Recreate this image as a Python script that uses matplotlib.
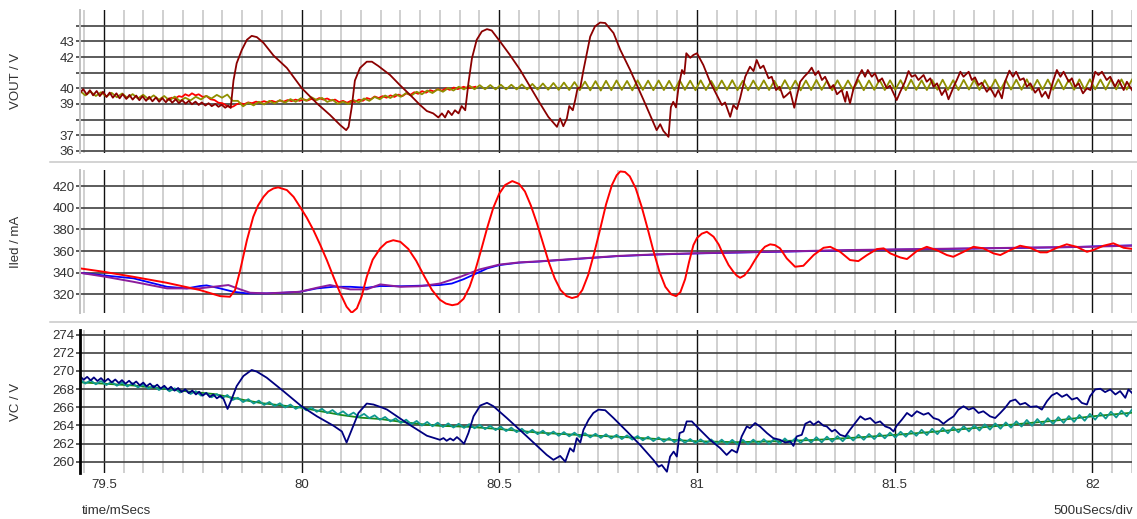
import numpy as np
import matplotlib
matplotlib.use('Agg')
import matplotlib.pyplot as plt
from matplotlib.ticker import MultipleLocator, FuncFormatter
from matplotlib.lines import Line2D

plt.rcParams['font.family'] = ['Liberation Sans', 'DejaVu Sans']

# rippling traces are read on a fixed sample grid (ms)
t_start = 79.44
t_step = 0.0133

# ---- top panel: VOUT / V ----
vout_olive = [
    39.83, 39.55, 39.79, 39.51, 39.75, 39.47, 39.71, 39.43, 39.67, 39.39,
    39.63, 39.35, 39.59, 39.31, 39.55, 39.27, 39.51, 39.23, 39.47, 39.19,
    39.40, 39.23, 39.46, 39.29, 39.52, 39.35, 39.58, 39.40, 39.60, 39.20,
    39.20, 38.85, 39.08, 38.91, 39.14, 38.97, 39.20, 39.03, 39.25, 39.08,
    39.31, 39.14, 39.37, 39.20, 39.43, 39.25, 39.39, 39.13, 39.27, 39.01,
    39.15, 39.00, 39.25, 39.10, 39.35, 39.20, 39.45, 39.30, 39.54, 39.38,
    39.62, 39.46, 39.70, 39.54, 39.78, 39.62, 39.86, 39.70, 39.94, 39.78,
    40.02, 39.86, 40.10, 39.93, 40.17, 39.94, 40.20, 39.94, 40.21, 39.93,
    40.23, 39.93, 40.23, 39.93, 40.25, 39.93, 40.28, 39.92, 40.31, 39.91,
    40.34, 39.90, 40.37, 39.89, 40.40, 39.88, 40.43, 39.87, 40.46, 39.86,
    40.48, 39.88, 40.50, 39.90, 40.47, 39.87, 40.51, 39.90, 40.49, 39.88,
    40.50, 39.89, 40.48, 39.87, 40.52, 39.90, 40.49, 39.88, 40.51, 39.89,
    40.47, 39.88, 40.50, 39.90, 40.52, 39.88, 40.48, 39.87, 40.50, 39.90,
    40.51, 39.89, 40.48, 39.88, 40.52, 39.90, 40.49, 39.87, 40.50, 39.89,
    40.53, 39.90, 40.49, 39.88, 40.51, 39.89, 40.50, 39.91, 40.53, 39.88,
    40.50, 39.90, 40.54, 39.89, 40.51, 39.91, 40.52, 39.88, 40.55, 39.90,
    40.51, 39.89, 40.53, 39.91, 40.55, 39.90, 40.52, 39.89, 40.54, 39.92,
    40.55, 39.90, 40.52, 39.91, 40.56, 39.90, 40.53, 39.92, 40.55, 39.91,
    40.57, 39.90, 40.54, 39.92, 40.56, 39.91, 40.58, 39.93, 40.55, 39.91,
    40.57, 39.92, 40.58, 39.93, 40.56, 39.92, 40.58, 39.93, 40.57, 39.92,
    40.56,
]

vout_red = [
    (79.660, 39.30), (79.672, 39.40), (79.680, 39.35), (79.690, 39.50),
    (79.698, 39.45), (79.706, 39.62), (79.715, 39.52), (79.723, 39.68),
    (79.732, 39.55), (79.740, 39.62), (79.750, 39.45), (79.760, 39.50),
    (79.770, 39.30), (79.780, 39.25), (79.790, 39.08), (79.800, 39.05),
    (79.810, 38.90), (79.820, 38.78), (79.828, 38.85), (79.836, 38.98),
    (79.845, 39.05), (79.855, 38.98), (79.865, 39.10), (79.875, 39.05),
    (79.885, 39.15), (79.895, 39.08), (79.905, 39.18), (79.915, 39.10),
    (79.925, 39.20), (79.935, 39.12), (79.945, 39.22), (79.955, 39.15),
    (79.965, 39.25), (79.975, 39.18), (79.985, 39.28), (79.995, 39.20),
    (80.005, 39.30), (80.015, 39.22), (80.025, 39.32), (80.035, 39.25),
    (80.045, 39.38), (80.055, 39.28), (80.065, 39.35), (80.075, 39.22),
    (80.085, 39.28), (80.095, 39.12), (80.105, 39.20), (80.115, 39.08),
    (80.125, 39.20), (80.135, 39.12), (80.145, 39.28), (80.155, 39.20),
    (80.165, 39.38), (80.175, 39.30), (80.185, 39.48), (80.195, 39.38),
    (80.205, 39.50), (80.215, 39.40), (80.225, 39.55), (80.235, 39.45),
    (80.245, 39.60), (80.255, 39.50), (80.265, 39.68), (80.275, 39.58),
    (80.285, 39.75), (80.295, 39.65), (80.305, 39.82), (80.315, 39.72),
    (80.325, 39.88), (80.335, 39.80), (80.345, 39.95), (80.355, 39.85),
    (80.365, 40.00), (80.375, 39.90), (80.385, 40.05), (80.395, 39.95),
    (80.410, 40.10), (80.420, 40.00), (80.440, 40.10),
]

vout_darkred = [
    (79.440, 39.70), (79.448, 39.95), (79.457, 39.60), (79.465, 39.88),
    (79.473, 39.55), (79.482, 39.83), (79.490, 39.50), (79.498, 39.78),
    (79.507, 39.45), (79.515, 39.73), (79.523, 39.40), (79.532, 39.68),
    (79.540, 39.36), (79.548, 39.63), (79.557, 39.32), (79.565, 39.58),
    (79.573, 39.28), (79.582, 39.54), (79.590, 39.24), (79.598, 39.50),
    (79.607, 39.20), (79.615, 39.46), (79.623, 39.17), (79.632, 39.42),
    (79.640, 39.14), (79.648, 39.38), (79.657, 39.11), (79.665, 39.35),
    (79.673, 39.08), (79.682, 39.30), (79.690, 39.05), (79.698, 39.25),
    (79.707, 39.02), (79.715, 39.20), (79.723, 38.98), (79.732, 39.15),
    (79.740, 38.94), (79.748, 39.10), (79.757, 38.90), (79.765, 39.05),
    (79.773, 38.86), (79.782, 39.00), (79.790, 38.82), (79.798, 38.95),
    (79.807, 38.76), (79.815, 38.90), (79.821, 38.75),
    (79.828, 40.50), (79.836, 41.60), (79.849, 42.45), (79.862, 43.10),
    (79.874, 43.35), (79.887, 43.27), (79.904, 42.90), (79.929, 42.10),
    (79.963, 41.30), (80.001, 40.00), (80.039, 39.04), (80.072, 38.30),
    (80.098, 37.65), (80.113, 37.33), (80.119, 37.54), (80.127, 38.80),
    (80.135, 40.50), (80.148, 41.30), (80.165, 41.70), (80.178, 41.70),
    (80.194, 41.43), (80.224, 40.85), (80.249, 40.20), (80.275, 39.57),
    (80.300, 38.93), (80.317, 38.55), (80.333, 38.40), (80.346, 38.14),
    (80.355, 38.40), (80.363, 38.14), (80.371, 38.56), (80.380, 38.29),
    (80.388, 38.60), (80.397, 38.40), (80.405, 38.87), (80.414, 38.60),
    (80.422, 40.32), (80.431, 41.92), (80.443, 43.10), (80.456, 43.63),
    (80.469, 43.78), (80.481, 43.69), (80.502, 42.99), (80.527, 42.13),
    (80.553, 41.17), (80.578, 40.10), (80.603, 39.04), (80.624, 38.18),
    (80.646, 37.54), (80.654, 38.08), (80.662, 37.58), (80.671, 38.08),
    (80.677, 38.87), (80.686, 38.60), (80.692, 39.25), (80.698, 40.00),
    (80.705, 40.06), (80.713, 41.17), (80.730, 43.30), (80.742, 43.95),
    (80.755, 44.20), (80.768, 44.17), (80.789, 43.53), (80.806, 42.46),
    (80.831, 41.17), (80.865, 39.25), (80.898, 37.33), (80.907, 37.71),
    (80.915, 37.28), (80.928, 36.90), (80.934, 38.80), (80.940, 39.14),
    (80.947, 38.78), (80.953, 40.00), (80.962, 41.17), (80.968, 40.92),
    (80.973, 42.24), (80.983, 41.95), (80.991, 42.13), (81.000, 42.24),
    (81.016, 41.49), (81.033, 40.42), (81.050, 39.57), (81.063, 38.93),
    (81.071, 39.10), (81.084, 38.18), (81.092, 38.93), (81.101, 38.67),
    (81.109, 39.36), (81.122, 40.74), (81.134, 41.38), (81.143, 41.10),
    (81.151, 41.81), (81.160, 41.28), (81.168, 41.45), (81.181, 40.64),
    (81.189, 40.74), (81.200, 39.89), (81.209, 40.10), (81.219, 39.40),
    (81.227, 39.57), (81.236, 39.78), (81.246, 38.76), (81.253, 39.57),
    (81.261, 40.42), (81.271, 40.74), (81.282, 41.03), (81.290, 41.32),
    (81.299, 40.85), (81.307, 41.10), (81.316, 40.53), (81.324, 40.74),
    (81.337, 40.00), (81.345, 40.21), (81.354, 39.62), (81.366, 39.89),
    (81.375, 39.14), (81.379, 39.78), (81.387, 39.04), (81.396, 40.00),
    (81.408, 40.74), (81.417, 41.17), (81.425, 40.74), (81.432, 41.17),
    (81.442, 40.74), (81.450, 40.96), (81.459, 40.42), (81.468, 40.64),
    (81.480, 40.00), (81.488, 40.17), (81.505, 39.25), (81.514, 39.78),
    (81.526, 40.42), (81.535, 41.10), (81.543, 40.74), (81.552, 40.85),
    (81.560, 40.53), (81.573, 40.85), (81.581, 40.42), (81.590, 40.64),
    (81.598, 40.10), (81.607, 40.32), (81.619, 39.57), (81.628, 39.94),
    (81.636, 39.30), (81.649, 40.10), (81.657, 40.53), (81.666, 41.06),
    (81.674, 40.74), (81.687, 41.06), (81.695, 40.53), (81.703, 40.70),
    (81.712, 40.21), (81.720, 40.36), (81.733, 39.78), (81.741, 40.06),
    (81.754, 39.46), (81.762, 39.89), (81.771, 39.36), (81.779, 40.42),
    (81.790, 41.13), (81.799, 40.74), (81.807, 41.06), (81.817, 40.53),
    (81.826, 40.64), (81.834, 40.10), (81.843, 40.32), (81.855, 39.72),
    (81.864, 40.00), (81.872, 39.46), (81.881, 39.78), (81.889, 39.36),
    (81.900, 40.42), (81.910, 41.17), (81.919, 40.74), (81.927, 41.06),
    (81.940, 40.42), (81.948, 40.64), (81.956, 40.10), (81.965, 40.32),
    (81.976, 39.68), (81.986, 40.00), (81.995, 39.89), (82.007, 41.06),
    (82.015, 40.85), (82.024, 41.06), (82.036, 40.53), (82.045, 40.74),
    (82.057, 40.10), (82.066, 40.53), (82.079, 39.89), (82.087, 40.42),
    (82.100, 39.89),
]

# ---- middle panel: Iled / mA ----
iled_red = [
    (79.440, 344.0), (79.499, 340.9), (79.575, 336.2), (79.659, 330.7),
    (79.743, 324.0), (79.794, 318.4), (79.819, 317.8), (79.832, 324.0),
    (79.845, 342.4), (79.862, 370.1), (79.878, 391.6), (79.890, 402.0),
    (79.904, 410.1), (79.916, 415.0), (79.929, 417.8), (79.941, 418.8),
    (79.963, 416.3), (79.980, 410.0), (79.996, 400.9), (80.013, 391.0),
    (80.030, 379.4), (80.047, 366.0), (80.064, 351.7), (80.081, 336.0),
    (80.098, 320.9), (80.114, 308.6), (80.127, 303.0), (80.140, 307.1),
    (80.152, 318.0), (80.165, 336.2), (80.180, 352.0), (80.199, 362.5),
    (80.215, 368.0), (80.232, 370.0), (80.250, 368.5), (80.270, 362.0),
    (80.290, 351.0), (80.310, 337.0), (80.330, 324.0), (80.350, 315.0),
    (80.365, 311.5), (80.381, 310.0), (80.395, 311.0), (80.410, 316.0),
    (80.425, 327.0), (80.440, 343.0), (80.455, 362.0), (80.470, 382.0),
    (80.485, 400.0), (80.500, 413.0), (80.515, 421.0), (80.533, 424.6),
    (80.550, 422.0), (80.565, 415.0), (80.580, 402.0), (80.595, 386.0),
    (80.610, 368.0), (80.625, 350.0), (80.640, 335.0), (80.655, 324.0),
    (80.670, 318.5), (80.684, 316.6), (80.698, 318.0), (80.710, 324.0),
    (80.725, 338.0), (80.740, 358.0), (80.755, 380.0), (80.770, 403.0),
    (80.785, 421.0), (80.797, 430.0), (80.806, 433.5), (80.818, 433.0),
    (80.830, 429.0), (80.845, 418.0), (80.860, 401.0), (80.875, 381.0),
    (80.890, 360.0), (80.905, 341.0), (80.920, 327.0), (80.935, 320.0),
    (80.947, 318.4), (80.958, 322.0), (80.970, 334.0), (80.980, 350.0),
    (80.991, 365.5), (81.000, 372.0), (81.012, 376.0), (81.025, 377.8),
    (81.042, 373.2), (81.055, 366.0), (81.067, 356.3), (81.080, 347.0),
    (81.092, 340.9), (81.100, 337.5), (81.109, 335.3), (81.120, 337.5),
    (81.134, 344.0), (81.147, 352.0), (81.160, 359.3), (81.172, 364.0),
    (81.185, 366.2), (81.197, 365.5), (81.210, 362.5), (81.227, 353.2),
    (81.248, 345.5), (81.269, 346.4), (81.295, 356.3), (81.320, 363.0),
    (81.337, 363.9), (81.362, 359.3), (81.387, 351.7), (81.408, 350.7),
    (81.430, 356.3), (81.455, 361.8), (81.472, 362.5), (81.489, 357.8),
    (81.514, 354.1), (81.531, 352.6), (81.556, 360.0), (81.581, 363.9),
    (81.606, 360.9), (81.632, 356.3), (81.648, 354.7), (81.674, 359.3),
    (81.699, 363.9), (81.724, 362.5), (81.750, 357.8), (81.767, 356.3),
    (81.792, 360.9), (81.817, 364.9), (81.842, 363.0), (81.868, 358.8),
    (81.885, 358.8), (81.910, 363.0), (81.935, 366.2), (81.960, 363.9),
    (81.986, 359.3), (82.002, 360.9), (82.028, 364.9), (82.053, 367.1),
    (82.079, 363.0), (82.104, 361.8),
]

iled_blue = [
    (79.440, 339.9), (79.500, 337.5), (79.575, 334.8), (79.660, 327.0),
    (79.710, 325.5), (79.743, 327.7), (79.760, 328.3), (79.794, 325.5),
    (79.828, 322.4), (79.862, 320.9), (79.912, 320.9), (79.954, 321.5),
    (79.996, 322.4), (80.039, 325.5), (80.081, 327.0), (80.123, 327.0),
    (80.165, 326.1), (80.199, 327.7), (80.250, 327.5), (80.300, 328.0),
    (80.350, 328.6), (80.380, 330.0), (80.410, 334.0), (80.440, 339.0),
    (80.470, 344.0), (80.500, 347.0), (80.550, 349.3), (80.600, 350.3),
    (80.700, 352.8), (80.800, 355.3), (80.900, 356.8), (81.000, 357.8),
    (81.200, 359.3), (81.400, 360.8), (81.600, 361.8), (81.800, 362.8),
    (81.950, 363.6), (82.030, 364.6), (82.100, 365.2),
]

iled_purple = [
    (79.440, 339.9), (79.500, 336.5), (79.575, 331.6), (79.660, 325.5),
    (79.740, 325.5), (79.794, 327.7), (79.815, 328.6), (79.845, 324.6),
    (79.870, 321.5), (79.912, 320.9), (79.996, 322.4), (80.039, 326.1),
    (80.072, 328.6), (80.123, 324.6), (80.165, 324.6), (80.199, 329.2),
    (80.250, 327.0), (80.300, 327.5), (80.350, 330.0), (80.400, 336.0),
    (80.450, 343.0), (80.500, 347.5), (80.550, 349.5), (80.600, 350.5),
    (80.700, 353.0), (80.800, 355.5), (80.900, 357.0), (81.000, 358.0),
    (81.200, 359.5), (81.400, 361.0), (81.600, 362.0), (81.800, 363.0),
    (82.000, 364.0), (82.100, 365.0),
]

# ---- bottom panel: VC / V ----
vc_teal = [
    269.05, 268.61, 268.97, 268.53, 268.89, 268.45, 268.81, 268.37, 268.73, 268.29,
    268.65, 268.18, 268.51, 268.04, 268.37, 267.90, 268.23, 267.76, 268.09, 267.62,
    267.95, 267.46, 267.77, 267.28, 267.59, 267.10, 267.45, 267.00, 267.35, 266.80,
    267.05, 266.57, 266.89, 266.41, 266.73, 266.25, 266.58, 266.11, 266.44, 265.97,
    266.30, 265.82, 266.14, 265.66, 265.98, 265.50, 265.83, 265.36, 265.69, 265.22,
    265.55, 265.08, 265.41, 264.94, 265.27, 264.80, 265.11, 264.62, 264.93, 264.44,
    264.77, 264.26, 264.63, 264.12, 264.49, 263.98, 264.38, 263.90, 264.30, 263.82,
    264.22, 263.76, 264.18, 263.72, 264.14, 263.68, 264.07, 263.58, 263.97, 263.48,
    263.87, 263.37, 263.75, 263.25, 263.63, 263.13, 263.52, 263.03, 263.42, 262.93,
    263.32, 262.85, 263.26, 262.79, 263.20, 262.73, 263.14, 262.67, 263.08, 262.61,
    263.02, 262.55, 262.96, 262.49, 262.90, 262.43, 262.83, 262.35, 262.75, 262.27,
    262.67, 262.20, 262.61, 262.14, 262.55, 262.08, 262.50, 262.04, 262.46, 262.00,
    262.45, 261.94, 262.43, 261.92, 262.41, 261.90, 262.41, 261.92, 262.43, 261.94,
    262.48, 261.94, 262.52, 261.98, 262.56, 262.02, 262.60, 262.06, 262.64, 262.10,
    262.70, 262.13, 262.76, 262.19, 262.82, 262.25, 262.89, 262.33, 262.97, 262.41,
    263.05, 262.49, 263.13, 262.57, 263.21, 262.65, 263.30, 262.75, 263.40, 262.85,
    263.52, 262.93, 263.62, 263.03, 263.72, 263.13, 263.82, 263.23, 263.92, 263.33,
    264.02, 263.43, 264.12, 263.53, 264.22, 263.63, 264.33, 263.75, 264.45, 263.87,
    264.60, 263.95, 264.70, 264.05, 264.80, 264.15, 264.91, 264.27, 265.03, 264.39,
    265.15, 264.51, 265.27, 264.63, 265.39, 264.75, 265.51, 264.87, 265.63, 264.99,
    265.75,
]

vc_green = [
    (79.440, 268.75), (79.500, 268.60), (79.575, 268.40), (79.650, 268.05),
    (79.700, 267.80), (79.745, 267.60), (79.780, 267.45), (79.820, 267.10),
    (79.860, 266.75), (79.900, 266.45), (79.950, 266.20), (80.000, 265.95),
    (80.050, 265.55), (80.100, 265.15), (80.150, 264.85), (80.200, 264.70),
    (80.250, 264.40), (80.300, 264.15), (80.350, 263.95), (80.420, 263.85),
    (80.500, 263.60), (80.600, 263.20), (80.700, 262.95), (80.800, 262.75),
    (80.900, 262.50), (81.000, 262.25), (81.100, 262.15), (81.200, 262.25),
    (81.300, 262.40), (81.400, 262.65), (81.500, 262.95), (81.600, 263.30),
    (81.700, 263.70), (81.800, 264.10), (81.900, 264.50), (82.000, 265.00),
    (82.100, 265.40),
]

vc_navy = [
    (79.440, 269.43), (79.449, 269.03), (79.458, 269.35), (79.467, 268.96),
    (79.475, 269.29), (79.484, 268.89), (79.493, 269.21), (79.502, 268.82),
    (79.511, 269.14), (79.520, 268.74), (79.529, 269.06), (79.538, 268.67),
    (79.546, 268.99), (79.555, 268.60), (79.564, 268.92), (79.573, 268.53),
    (79.582, 268.84), (79.591, 268.42), (79.600, 268.72), (79.608, 268.31),
    (79.617, 268.61), (79.626, 268.19), (79.635, 268.49), (79.644, 268.07),
    (79.653, 268.37), (79.662, 267.96), (79.670, 268.26), (79.679, 267.83),
    (79.688, 268.12), (79.697, 267.69), (79.706, 267.98), (79.715, 267.55),
    (79.724, 267.84), (79.733, 267.41), (79.741, 267.71), (79.750, 267.28),
    (79.759, 267.57), (79.768, 267.13), (79.777, 267.41), (79.786, 266.98),
    (79.795, 267.27), (79.803, 266.90), (79.813, 265.81), (79.823, 266.85),
    (79.836, 268.33), (79.853, 269.44), (79.874, 270.11), (79.887, 269.93),
    (79.912, 269.26), (79.954, 267.78), (80.000, 266.11), (80.039, 265.00),
    (80.081, 263.96), (80.102, 263.33), (80.114, 262.11), (80.127, 263.52),
    (80.144, 265.37), (80.165, 266.41), (80.182, 266.30), (80.199, 266.04),
    (80.216, 265.75), (80.266, 264.27), (80.317, 262.86), (80.350, 262.41),
    (80.359, 262.60), (80.367, 262.30), (80.376, 262.56), (80.384, 262.34),
    (80.393, 262.71), (80.401, 262.41), (80.411, 261.97), (80.422, 263.15),
    (80.435, 265.00), (80.452, 266.19), (80.469, 266.49), (80.485, 266.12),
    (80.519, 264.82), (80.570, 262.78), (80.620, 260.75), (80.637, 260.20),
    (80.654, 260.63), (80.667, 260.00), (80.679, 261.48), (80.688, 261.11),
    (80.696, 262.59), (80.705, 262.11), (80.713, 263.52), (80.726, 264.63),
    (80.738, 265.37), (80.751, 265.74), (80.768, 265.67), (80.789, 264.81),
    (80.823, 263.33), (80.856, 261.85), (80.890, 260.18), (80.903, 259.44),
    (80.911, 259.63), (80.924, 258.89), (80.932, 260.56), (80.941, 261.11),
    (80.949, 260.56), (80.956, 263.15), (80.966, 263.33), (80.974, 264.44),
    (80.987, 264.44), (80.999, 263.89), (81.033, 262.41), (81.059, 261.48),
    (81.075, 260.74), (81.088, 261.30), (81.101, 261.00), (81.113, 262.78),
    (81.126, 263.89), (81.134, 263.70), (81.147, 264.26), (81.160, 263.85),
    (81.177, 263.15), (81.193, 262.59), (81.210, 262.41), (81.223, 262.11),
    (81.236, 262.22), (81.244, 261.74), (81.252, 262.78), (81.265, 262.96),
    (81.274, 264.18), (81.286, 264.44), (81.295, 264.07), (81.307, 264.44),
    (81.320, 263.96), (81.328, 263.89), (81.341, 263.33), (81.349, 263.52),
    (81.362, 262.96), (81.375, 262.78), (81.387, 263.52), (81.400, 264.26),
    (81.413, 265.00), (81.425, 264.63), (81.438, 264.81), (81.451, 264.26),
    (81.463, 264.44), (81.476, 263.89), (81.488, 263.70), (81.497, 263.33),
    (81.505, 263.96), (81.518, 264.63), (81.531, 265.37), (81.543, 265.00),
    (81.556, 265.56), (81.573, 265.18), (81.585, 265.37), (81.598, 264.81),
    (81.611, 264.63), (81.623, 264.18), (81.636, 264.63), (81.649, 265.00),
    (81.661, 265.74), (81.674, 266.11), (81.687, 265.74), (81.699, 265.93),
    (81.712, 265.37), (81.724, 265.56), (81.741, 265.00), (81.754, 264.81),
    (81.767, 265.37), (81.779, 265.93), (81.792, 266.67), (81.805, 266.85),
    (81.817, 266.30), (81.830, 266.48), (81.843, 266.04), (81.859, 266.11),
    (81.872, 265.74), (81.885, 266.67), (81.897, 267.30), (81.910, 267.59),
    (81.923, 267.15), (81.935, 267.41), (81.948, 266.85), (81.961, 267.04),
    (81.973, 266.48), (81.986, 266.30), (81.994, 267.22), (82.007, 267.96),
    (82.020, 268.04), (82.032, 267.67), (82.045, 267.96), (82.058, 267.41),
    (82.070, 267.78), (82.083, 267.04), (82.091, 267.96), (82.104, 267.41),
]

x_range = (79.44, 82.1)


def grid_t(values):
    return t_start + t_step * np.arange(len(values))


def plot_pairs(ax, pairs, color, lw=1.3):
    t, v = zip(*pairs)
    ax.plot(t, v, color=color, lw=lw, solid_joinstyle='round')


def style(ax, ylim, yticks, ylabels, spine_color, spine_lw, show_x=False):
    ax.set_xlim(*x_range)
    ax.set_ylim(*ylim)
    ax.xaxis.set_major_locator(MultipleLocator(0.5))
    ax.xaxis.set_minor_locator(MultipleLocator(0.05))
    ax.xaxis.set_major_formatter(FuncFormatter(lambda v, p: f'{v:g}'))
    ax.set_yticks(yticks)
    ax.set_yticklabels(ylabels)
    ax.grid(which='minor', axis='x', color='#d0d0d0', lw=1.4)
    ax.grid(which='major', axis='x', color='#101010', lw=1.0)
    ax.grid(which='major', axis='y', color='#404040', lw=1.2)
    ax.set_axisbelow(True)
    for s in ['top', 'right', 'bottom']:
        ax.spines[s].set_visible(False)
    ax.spines['left'].set_color(spine_color)
    ax.spines['left'].set_linewidth(spine_lw)
    ax.tick_params(axis='y', length=3, width=1.2, color='#404040', pad=1,
                   labelsize=9.5, labelcolor='#303030')
    ax.tick_params(axis='x', which='both', length=0, pad=4, labelsize=9.5,
                   labelcolor='#303030', labelbottom=show_x)


fig = plt.figure(figsize=(11.37, 5.19), dpi=100)
ax_top = fig.add_axes([0.0704, 0.7058, 0.9252, 0.2749])
ax_mid = fig.add_axes([0.0704, 0.3963, 0.9252, 0.2761])
ax_bot = fig.add_axes([0.0704, 0.0881, 0.9252, 0.2761])

# top
plot_pairs(ax_top, vout_red, '#ff0000')
ax_top.plot(grid_t(vout_olive), vout_olive, color='#8f8f00', lw=1.3)
plot_pairs(ax_top, vout_darkred, '#8b0000')
style(ax_top, (35.89, 45.0), list(range(36, 45)),
      ['36', '37', '', '39', '40', '', '42', '43', ''], '#c0c0c0', 1.4)

# middle
plot_pairs(ax_mid, iled_blue, '#0000ff')
plot_pairs(ax_mid, iled_purple, '#8c1c9c', lw=1.4)
plot_pairs(ax_mid, iled_red, '#ff0000', lw=1.4)
style(ax_mid, (302.5, 434.8), [320, 340, 360, 380, 400, 420],
      ['320', '340', '360', '380', '400', '420'], '#c0c0c0', 1.4)

# bottom
plot_pairs(ax_bot, vc_green, '#1a8a1a')
ax_bot.plot(grid_t(vc_teal), vc_teal, color='#109890', lw=1.3)
plot_pairs(ax_bot, vc_navy, '#000080')
style(ax_bot, (258.72, 274.52), list(range(260, 275, 2)),
      [str(v) for v in range(260, 275, 2)], '#000000', 2.0, show_x=True)

fig.text(0.0141, 0.8434, 'VOUT / V', rotation=90, ha='center', va='center',
         fontsize=9.5, color='#303030')
fig.text(0.0141, 0.5343, 'Iled / mA', rotation=90, ha='center', va='center',
         fontsize=9.5, color='#303030')
fig.text(0.0141, 0.2260, 'VC / V', rotation=90, ha='center', va='center',
         fontsize=9.5, color='#303030')
fig.text(0.0721, 0.0154, 'time/mSecs', ha='left', va='center', fontsize=9.5,
         color='#303030')
fig.text(0.9965, 0.0154, '500uSecs/div', ha='right', va='center', fontsize=9.5,
         color='#303030')

for y in (0.6884, 0.3802):
    fig.add_artist(Line2D([0.044, 1.0], [y, y], transform=fig.transFigure,
                          color='#c8c8c8', lw=1.1))

fig.savefig('out.png', dpi=100)
